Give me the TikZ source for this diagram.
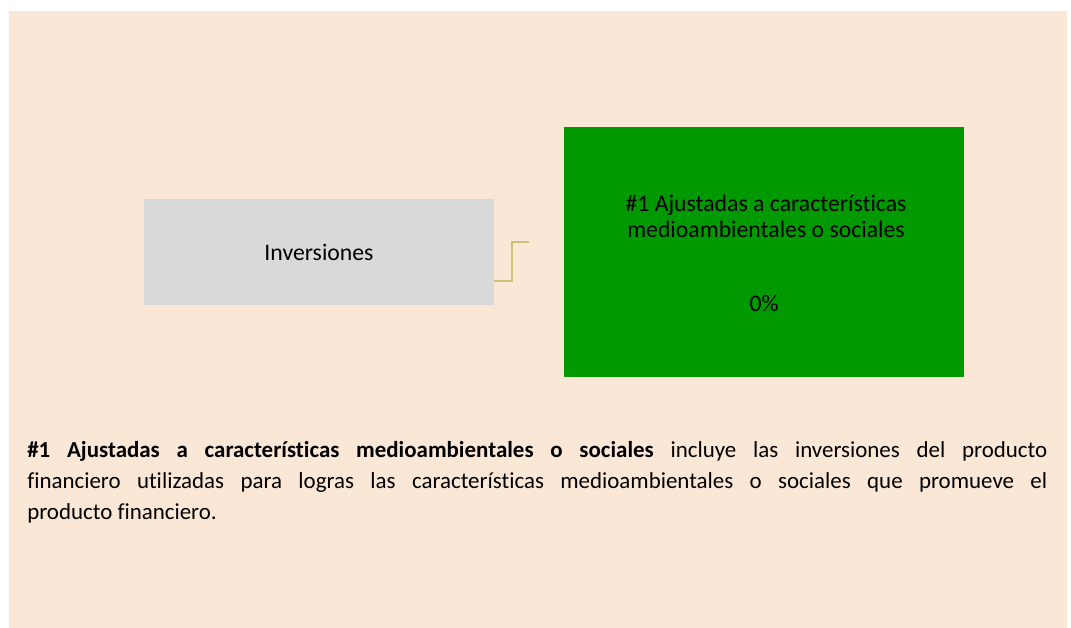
\documentclass[tikz,border=0pt]{standalone}
\usepackage{fontspec}
\setmainfont{Carlito}[Ligatures=NoCommon]
\definecolor{bgbeige}{RGB}{250,231,214}
\definecolor{boxgray}{RGB}{217,217,217}
\definecolor{boxgreen}{RGB}{0,153,0}
\definecolor{linktan}{RGB}{204,192,122}
\begin{document}
\begin{tikzpicture}[x=0.75pt,y=-0.75pt,
  graybox/.style={fill=boxgray,draw=none,minimum width=262.5pt,minimum height=79.5pt,inner sep=0pt},
  greenbox/.style={fill=boxgreen,draw=none,minimum width=300pt,minimum height=187.5pt,inner sep=0pt},
  boxtext/.style={align=center,inner sep=0pt,font=\fontsize{17.8}{19.5}\selectfont},
  link/.style={draw=linktan,line width=1.5pt}]
\useasboundingbox (0,0) rectangle (1071,628);
\fill[bgbeige] (9,11) rectangle (1067,628);
\node[graybox] (inv) at (319,252) {};
\node[boxtext] (invtext) at (319,252) {Inversiones};
\node[greenbox] (grn) at (764,252) {};
\node[boxtext] (grntext) at (766,216) {\#1 Ajustadas a características\\medioambientales o sociales};
\node[boxtext] (pct) at (764,303) {0\%};
\coordinate (lnkend) at (529,242);
\draw[link] (inv.east |- 0,281) -- (512,281) -- (512,242) -- (lnkend);
\node[anchor=north west,inner sep=0pt,text width=765pt,align=justify,font=\fontsize{17.2}{23.25}\selectfont] (body) at (27,441.5)
  {\hyphenpenalty=10000\textbf{\#1 Ajustadas a características medioambientales o sociales} incluye las inversiones del producto\linebreak financiero utilizadas para logras las características medioambientales o sociales que promueve el\linebreak producto financiero.};
\end{tikzpicture}
\end{document}
